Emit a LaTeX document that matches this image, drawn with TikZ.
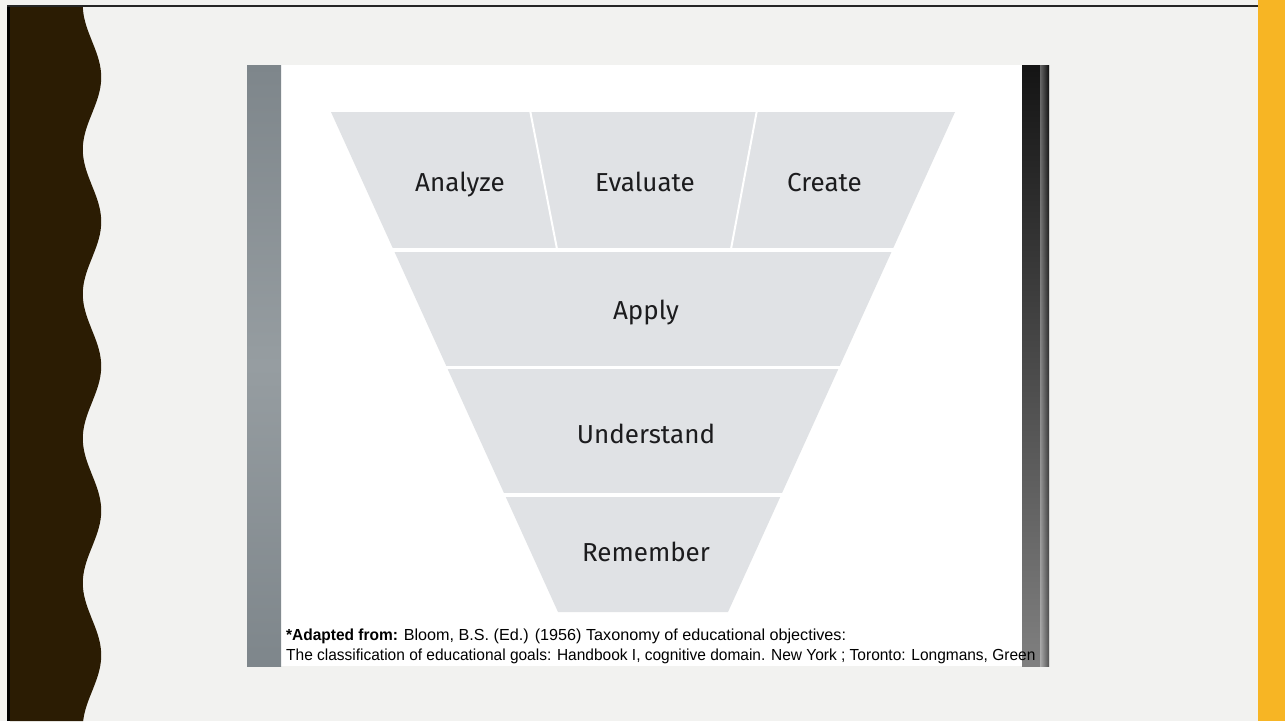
\documentclass[tikz,border=0pt]{standalone}
\usepackage{fontspec}
\usepackage{graphicx}
\newfontfamily\funfont{Fira Sans}
\newfontfamily\capfont[FakeStretch=0.968]{Liberation Sans}
\definecolor{slidebg}{RGB}{242,242,240}
\definecolor{wavebrown}{RGB}{43,28,3}
\definecolor{barorange}{RGB}{247,181,36}
\definecolor{funnelgray}{RGB}{224,226,229}
\definecolor{sidegray}{RGB}{126,134,139}
\definecolor{sidegraylight}{RGB}{150,157,161}
\definecolor{labeltext}{RGB}{28,28,30}
\tikzset{
  level/.style={font=\funfont\fontsize{26}{30}\selectfont, text=labeltext, anchor=base, inner sep=0pt},
  caption/.style={font=\capfont\fontsize{16}{19}\selectfont, text=black, anchor=base west, inner sep=0pt},
  gapline/.style={draw=white, line width=3.5pt},
  divline/.style={draw=white, line width=2pt}
}
\begin{document}
\begin{tikzpicture}[x=1pt,y=-1pt]
\useasboundingbox (0,0) rectangle (1285,721);
% slide background
\fill[slidebg] (0,0) rectangle (1285,721);
% orange bar on the right
\fill[barorange] (1258,0) rectangle (1285,721);
% wavy brown band
\fill[wavebrown] (10,6) -- plot[domain=6:721,samples=300,variable=\t] ({92-9.2*cos((\t-5)/144.5*360)},\t) -- (10,721) -- cycle;
% left dark line and top line
\fill[black] (7,5) rectangle (10,721);
\fill[black!85] (7,5) rectangle (1258,7);
% embedded picture
\fill[white] (281,65) rectangle (1022,666);
\shade[top color=sidegray, bottom color=sidegray, middle color=sidegraylight] (247,65) rectangle (281,666);
\shade[top color=black!92, bottom color=black!50] (1022,65) rectangle (1049,666);
\shade[left color=black!0, right color=black, opacity=0.35] (1040,65) rectangle (1049,666);
% funnel
\fill[funnelgray] (331,112) -- (955,112) -- (728,612) -- (558,612) -- cycle;
\draw[gapline] (320,250.2) -- (970,250.2);
\draw[gapline] (320,367.7) -- (970,367.7);
\draw[gapline] (320,495) -- (970,495);
\draw[divline] (530,110) -- (557,249);
\draw[divline] (757,110) -- (731,249);
% labels
\node[level] (analyze) at (460,191.7) {Analyze};
\node[level] (evaluate) at (645,191.7) {Evaluate};
\node[level] (create) at (824.5,191.7) {Create};
\node[level] (apply) at (646,319.3) {Apply};
\node[level] (understand) at (646,443.3) {Understand};
\node[level] (remember) at (646,561.7) {Remember};
% caption
\node[caption] (cap1) at (286,640.7) {\textbf{*Adapted from:} \scalebox{1.045}[1]{Bloom, B.S. (Ed.) (1956) Taxonomy of educational objectives:}};
\node[caption] (cap2) at (286,660) {The classification of educational goals: Handbook I, cognitive domain. New York ; Toronto: Longmans, Green};
\end{tikzpicture}
\end{document}
